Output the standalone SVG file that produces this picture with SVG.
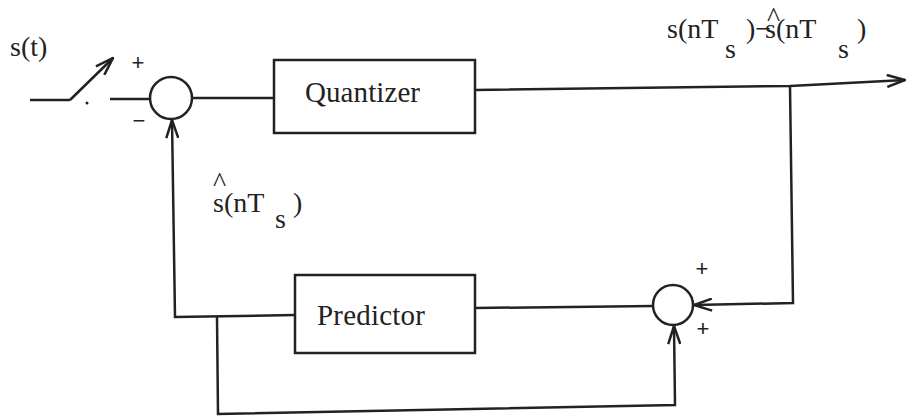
<svg xmlns="http://www.w3.org/2000/svg" width="909" height="419" viewBox="0 0 909 419">
<defs>
<style>
.l{fill:none;stroke:#222;stroke-width:2.5;stroke-linejoin:miter}
.b{fill:#fff;stroke:#222;stroke-width:2.5}
.t{font-family:"Liberation Serif",serif;font-size:28px;fill:#222}
.bt{font-family:"Liberation Serif",serif;font-size:29px;fill:#222}
.s{font-family:"Liberation Sans",sans-serif;font-size:22px;fill:#222}
</style>
<marker id="a" viewBox="0 0 20 14" refX="19" refY="7" markerWidth="20" markerHeight="14" markerUnits="userSpaceOnUse" orient="auto">
<path d="M1,1 L19,7 L1,13" fill="none" stroke="#222" stroke-width="2.5"/>
</marker>
</defs>
<rect width="909" height="419" fill="#fff"/>
<g id="connectors">
<line class="l" x1="30" y1="100" x2="70" y2="100"/>
<line class="l" x1="70" y1="100" x2="113" y2="58" marker-end="url(#a)"/>
<circle cx="87" cy="103" r="1.5" fill="#222"/>
<line class="l" x1="110" y1="99" x2="150" y2="99"/>
<line class="l" x1="192" y1="98" x2="274" y2="98"/>
<polyline class="l" points="475,90 790,86 905,80" marker-end="url(#a)"/>
<polyline class="l" points="790,86 793,303 694,305" marker-end="url(#a)"/>
<line class="l" x1="475" y1="308" x2="653" y2="306"/>
<polyline class="l" points="295,315 175,317 172,120" marker-end="url(#a)"/>
<polyline class="l" points="217,317 218,414 675,405 674,326" marker-end="url(#a)"/>
</g>
<g id="sum1">
<circle class="b" cx="171" cy="98" r="21"/>
<text class="s" x="138" y="70" text-anchor="middle">+</text>
<text class="s" x="139" y="128" text-anchor="middle">−</text>
</g>
<g id="quantizer">
<rect class="b" x="274" y="60" width="201" height="73"/>
<text class="bt" x="305" y="102" textLength="115">Quantizer</text>
</g>
<g id="sum2">
<circle class="b" cx="673" cy="305" r="20"/>
<text class="s" x="702" y="276" text-anchor="middle">+</text>
<text class="s" x="703" y="336" text-anchor="middle">+</text>
</g>
<g id="predictor">
<rect class="b" x="295" y="275" width="180" height="78"/>
<text class="bt" x="317" y="325" textLength="108">Predictor</text>
</g>
<g id="labels">
<text class="t" x="10" y="56">s(t)</text>
<text class="t" x="667" y="38">s(nT<tspan x="725" dy="20">s</tspan><tspan x="746" dy="-20">)−</tspan><tspan x="767" dy="-12">^</tspan><tspan x="765" dy="12">s(nT</tspan><tspan x="838" dy="20">s</tspan><tspan x="857" dy="-20">)</tspan></text>
<text class="t" x="213" y="191">^<tspan x="213" dy="21">s(nT</tspan><tspan x="275" dy="16">s</tspan><tspan x="293" dy="-16">)</tspan></text>
</g>
</svg>
